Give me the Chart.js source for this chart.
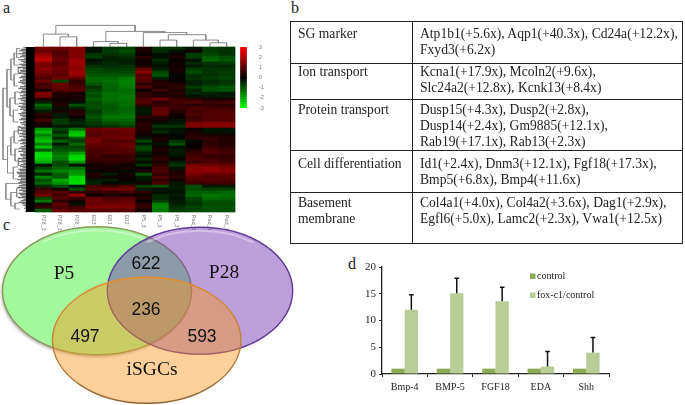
<!DOCTYPE html>
<html>
<head>
<meta charset="utf-8">
<script src="https://cdn.jsdelivr.net/npm/chart.js@4"></script>
<style>
  html, body { margin: 0; padding: 0; background: #fff; }
  body { position: relative; width: 685px; height: 405px; overflow: hidden; font-family: "Liberation Serif", serif; color: #222; }
  canvas { position: absolute; }
  .panel { position: absolute; font-size: 16px; line-height: 16px; color: #222; }
  table { position: absolute; left: 290px; top: 21px; width: 393px; border-collapse: collapse; table-layout: fixed; font-size: 13.6px; line-height: 16px; }
  td { border: 1.3px solid #222; padding: 2px 0 0 7px; vertical-align: top; white-space: nowrap; }
  td:first-child { width: 114px; }
</style>
</head>
<body>
<div class="panel" style="left:3px;top:0px">a</div>
<div class="panel" style="left:291px;top:0px">b</div>
<div class="panel" style="left:3px;top:217px">c</div>
<div class="panel" style="left:348px;top:256px">d</div>

<canvas id="heat" width="240" height="240" style="left:0;top:0;width:240px;height:240px;filter:blur(0.4px)"></canvas>
<canvas id="scale" width="34" height="80" style="left:237px;top:38px;width:34px;height:80px"></canvas>
<canvas id="venn" width="295" height="185" style="left:0;top:220px;width:295px;height:185px"></canvas>
<canvas id="bars" width="275" height="145" style="left:345px;top:255px;width:275px;height:145px"></canvas>

<table>
  <tr style="height:42px"><td style="padding-top:4px">SG marker</td><td style="padding-top:4px">Atp1b1(+5.6x), Aqp1(+40.3x), Cd24a(+12.2x),<br>Fxyd3(+6.2x)</td></tr>
  <tr style="height:36px"><td style="padding-top:0">Ion transport</td><td style="padding-top:0">Kcna1(+17.9x), Mcoln2(+9.6x),<br>Slc24a2(+12.8x), Kcnk13(+8.4x)</td></tr>
  <tr style="height:51px"><td>Protein transport</td><td>Dusp15(+4.3x), Dusp2(+2.8x),<br>Dusp14(+2.4x), Gm9885(+12.1x),<br>Rab19(+17.1x), Rab13(+2.3x)</td></tr>
  <tr style="height:42px"><td style="padding-top:5px">Cell differentiation</td><td style="padding-top:5px">Id1(+2.4x), Dnm3(+12.1x), Fgf18(+17.3x),<br>Bmp5(+6.8x), Bmp4(+11.6x)</td></tr>
  <tr style="height:51px"><td>Basement<br>membrane</td><td>Col4a1(+4.0x), Col4a2(+3.6x), Dag1(+2.9x),<br>Egfl6(+5.0x), Lamc2(+2.3x), Vwa1(+12.5x)</td></tr>
</table>

<script>
const serif = "'Liberation Serif'";

// panel a
const heatLabels = ["P28_3","P28_1","P28_2","E03","E01","E02","P5_3","P5_1","P5_2","Pad_2","Pad_1","Pad_3"];
const heatRows = [
  [1.4,1.3,1.5,-0.2,-0.6,-0.7,0.4,-0.6,-0.5,-0.2,-0.7,-0.6],
  [1.2,1.0,1.5,-0.2,-0.7,-0.9,0.3,-0.5,-0.2,0.2,-0.7,-0.6],
  [1.7,1.0,1.5,-0.6,-0.6,-0.7,0.1,-0.2,0.2,-0.7,-0.8,-0.6],
  [2.0,1.1,1.5,-0.7,-0.4,-0.5,0.4,-0.2,0.3,-0.7,-1.1,-0.9],
  [2.2,1.2,1.8,-0.2,-0.4,-0.4,0.2,-0.5,0.1,-0.2,-1.2,-1.0],
  [1.5,1.0,1.8,-0.3,-0.5,-0.4,0.2,-0.3,0.2,-0.5,-0.6,-0.7],
  [1.4,1.2,1.7,-0.6,-0.5,-0.6,0.3,-0.2,0.2,-0.3,-0.5,-0.5],
  [1.6,1.3,1.6,-0.8,-0.7,-0.7,1.2,-0.4,0.3,-0.7,-0.6,-0.6],
  [1.4,1.1,1.9,-0.9,-0.8,-0.8,1.5,-0.8,0.2,-0.9,-0.6,-0.7],
  [1.2,1.1,1.7,-1.0,-1.0,-1.0,1.0,-1.0,-0.1,-0.5,-0.6,-0.7],
  [0.9,1.3,1.1,-1.2,-1.2,-1.4,1.1,-0.4,0.1,-0.6,-0.7,-0.8],
  [1.2,-0.8,0.6,-1.2,-1.3,-1.5,0.9,0.3,0.1,-0.4,-0.5,-0.6],
  [0.8,1.2,0.7,-1.0,-1.2,-1.5,0.5,0.5,0.4,-0.4,-0.6,-0.7],
  [0.9,1.2,0.9,-0.6,-1.2,-1.4,0.9,0.3,0.5,-0.7,-0.9,-1.0],
  [0.3,1.0,1.0,-0.8,-1.1,-1.3,0.2,0.7,0.3,-0.4,-0.9,-1.0],
  [1.5,0.4,0.3,-1.0,-1.3,-1.3,0.6,0.3,0.5,-0.5,-0.4,-0.3],
  [1.4,0.3,0.3,-0.9,-1.3,-1.4,0.6,0.4,0.3,-0.2,-0.3,-0.3],
  [0.4,0.2,0.3,-1.1,-1.3,-1.4,0.9,1.3,0.7,0.5,0.3,0.3],
  [-0.4,0.3,-0.2,-0.9,-1.2,-1.3,1.0,0.5,0.8,0.9,0.7,0.8],
  [-1.2,0.4,-0.9,-0.9,-1.1,-1.3,0.5,0.6,0.7,0.5,0.6,0.5],
  [-0.8,-0.2,-0.4,-0.9,-1.0,-1.2,-0.2,1.1,0.7,0.9,0.8,0.8],
  [-0.3,0.3,0.4,-0.7,-1.1,-1.2,-0.3,1.2,0.5,0.8,0.9,0.9],
  [0.5,-0.3,0.5,-0.8,-1.2,-1.3,-0.2,1.1,0.2,0.9,1.0,1.0],
  [0.3,-0.3,0.1,-1.0,-1.4,-1.4,0.5,0.4,0.1,0.7,0.9,1.0],
  [0.8,-0.7,-0.3,-0.8,-1.2,-1.2,0.2,0.3,-0.2,0.8,1.0,0.9],
  [0.4,-0.7,-0.5,-0.7,-0.9,-1.0,0.5,-0.2,-0.3,1.4,1.5,1.5],
  [0.2,-0.3,-0.3,-0.5,-0.6,-0.7,0.4,-0.6,-0.6,1.5,1.6,1.6],
  [-1.7,-0.8,-1.3,1.2,1.3,1.3,0.4,-0.3,-0.2,0.2,-0.2,-0.2],
  [-2.2,-0.5,-2.2,1.1,1.1,1.2,0.3,-0.5,-0.2,0.3,-0.2,-0.2],
  [-1.5,-1.0,-2.4,1.0,1.2,1.2,0.2,0.1,-0.1,0.4,0.3,0.2],
  [-2.0,-0.5,-1.0,1.3,1.2,1.3,-0.3,0.3,-0.1,0.5,0.6,0.4],
  [-2.3,-1.1,-0.7,1.4,1.0,1.0,-0.8,0.3,-0.6,-0.1,0.5,0.4],
  [-1.5,-0.3,-1.2,1.2,1.1,1.2,-0.3,-0.2,-0.9,0.1,0.5,0.4],
  [-2.2,-0.8,-0.8,1.0,1.0,1.2,-0.9,0.2,-0.2,0.1,0.7,0.6],
  [-1.0,-1.0,-1.0,0.9,1.0,1.0,-0.7,0.3,-0.3,0.4,0.9,0.7],
  [-2.5,-1.3,-1.9,0.8,0.9,0.9,-0.3,0.2,-0.3,0.7,0.9,0.8],
  [-2.6,-1.5,-2.5,0.8,0.5,0.6,-0.2,0.4,-0.2,0.8,0.6,0.6],
  [-2.4,-1.4,-2.6,0.7,0.7,0.7,-0.5,0.5,0.1,0.9,0.8,0.7],
  [-2.0,-0.9,-1.7,0.5,0.6,0.5,-0.2,0.3,-0.4,0.7,0.9,0.8],
  [-0.2,-0.9,-0.2,0.2,0.3,0.2,-0.6,0.6,-0.6,1.4,1.3,1.2],
  [-0.8,-1.2,-1.3,0.3,0.2,0.3,0.1,0.8,-0.2,1.6,1.7,1.5],
  [-1.3,-1.5,-1.7,-0.1,0.2,-0.1,0.3,0.9,0.3,1.6,1.7,1.6],
  [-0.4,-1.1,-1.8,0.4,-0.3,0.2,-1.0,0.6,0.4,1.4,1.2,1.2],
  [-1.5,-1.0,-2.5,0.3,0.2,0.2,-0.3,1.0,0.5,1.1,0.9,1.0],
  [-0.9,-2.0,-2.5,-0.3,-0.3,0.1,-0.2,0.6,0.2,0.9,1.0,0.9],
  [-1.2,-1.7,-2.6,-0.4,-0.1,-0.2,0.2,0.9,-0.3,0.7,0.7,0.8],
  [-0.5,-0.9,-0.3,0.8,0.7,0.9,-0.7,-0.9,-0.3,-0.9,-0.3,-0.3],
  [0.7,0.2,-0.9,1.0,1.3,1.4,-0.3,-0.2,-0.3,-0.9,-0.8,-0.8],
  [1.0,1.0,0.6,0.5,0.6,0.7,0.5,-0.2,-0.2,-1.1,-1.1,-1.2],
  [1.3,0.8,1.7,0.2,0.3,0.3,0.2,-0.5,-0.3,-1.2,-1.4,-1.3],
  [-0.8,1.0,0.7,1.2,0.9,1.0,0.4,-0.5,-0.2,-0.8,-1.3,-1.2],
  [-1.4,0.5,0.2,1.3,1.1,1.2,0.1,-0.7,-0.3,-0.7,-1.0,-1.0],
  [0.3,1.1,-0.2,1.2,1.3,1.3,0.5,-1.5,-0.4,-0.6,-0.9,-0.9],
  [0.6,0.9,0.7,1.5,1.5,1.5,0.6,-1.6,-0.6,-0.8,-1.0,-1.0],
  [-1.0,1.2,1.0,1.0,1.0,1.0,0.3,-1.4,-0.7,-0.8,-0.9,-0.9]
];
// [from, to, height, fromBase, toBase]
const topTree = [
  [1.5,2.5,3.4,0,0], [0.5,2.0,4.3,0,3.4], [4.5,5.5,1.2,0,0], [3.5,5.0,1.8,0,1.2],
  [7.5,8.5,2.3,0,0], [10.5,11.5,1.4,0,0], [9.5,11.0,2.3,0,1.4], [8.0,10.25,4.1,2.3,2.3],
  [6.5,9.1,4.8,0,4.1], [4.25,7.8,5.2,1.8,4.8], [1.25,6.0,7.2,4.3,5.2]
];
const leftTree = [
  [0.5,3.5,-1.1,-0.9,-0.9], [2,6,-1.25,-1.1,-0.95], [9,13,-1.25,-1.0,-1.0], [4,11,-1.45,-1.25,-1.25],
  [7,8.5,-1.0,-0.85,-0.85], [15,19,-1.2,-0.95,-0.95], [21,25,-1.3,-1.0,-1.0], [17,23,-1.5,-1.2,-1.3],
  [7.5,20,-1.68,-1.45,-1.5], [28,32,-1.25,-1.0,-1.0], [34,38,-1.2,-0.95,-0.95], [30,36,-1.45,-1.25,-1.2],
  [40,44,-1.3,-1.0,-1.0], [33,42,-1.65,-1.45,-1.3], [26.5,29,-1.0,-0.85,-0.85], [37,39.5,-1.0,-0.85,-0.85],
  [13.75,37.5,-1.92,-1.68,-1.65], [47,50,-1.1,-0.9,-0.9], [52,54,-1.2,-0.9,-0.9], [48.5,53,-1.45,-1.1,-1.2],
  [45.5,50.75,-1.75,-0.8,-1.45]
];
const leafTips = [
  -0.7,-0.85,-0.95,-0.75,-1.0,-0.8,-0.9,-0.65,-1.0,-0.85,-0.7,-0.95,-0.8,-1.05,-0.75,-0.9,
  -0.85,-1.0,-0.7,-0.85,-0.95,-0.75,-0.9,-1.0,-0.8,-0.65,-0.9,-1.0,-0.75,-0.85,-0.95,-0.7,
  -0.9,-0.8,-1.0,-0.85,-0.7,-0.95,-0.75,-1.0,-0.85,-0.9,-0.7,-0.8,-1.0,-0.9,-0.75,-0.85,
  -0.95,-0.7,-0.9,-0.8,-0.65,-0.95,-0.85,-1.0,-0.75,-0.9,-0.8,-0.95,-0.7,-0.85,-1.0,-0.75,
  -0.9,-0.65,-0.85,-0.95,-0.8,-1.0,-0.7,-0.9,-0.85,-0.75,-0.95,-0.8,-1.0,-0.7,-0.85,-0.9,
  -0.75,-1.0,-0.9,-1.1,-1.05,-0.95,-1.0,-0.85,-1.05,-0.9,-1.0,-0.8,-0.95,-1.05,-0.85,-0.95,
  -0.75,-1.0,-0.9,-0.8,-1.0,-0.7,-0.85,-0.95,-0.8,-0.7,-0.6,-0.65,-0.55,-0.6
];
const scaleSteps = [3,2.75,2.5,2.25,2,1.75,1.5,1.25,1,0.75,0.5,0.25,0,-0.25,-0.5,-0.75,-1,-1.25,-1.5,-1.75,-2,-2.25,-2.5,-2.75,-3];

// panel c
const vennNames = ["P5","P28","iSGCs"];
const vennNameX = [64,224,152];
const vennNameY = [54,53,150];
const vennCx = [97,200,146.7];
const vennCy = [70.7,70.7,120.3];
const vennRx = [94.5,92.7,94.3];
const vennRy = [64,63.5,63];
const vennCounts = ["622","236","497","593"];
const vennCountX = [146,146,85,202];
const vennCountY = [44,90,117,117];

// panel d
const genes = ["Bmp-4","BMP-5","FGF18","EDA","Shh"];
const controlValues = [1,1,1,1,1];
const foxValues = [12,15.1,13.6,1.4,4];
const foxErrorTops = [14.8,17.9,16.2,4.2,6.8];
const barColors = ["#8cab52","#b9cd96"];

function heatColor(v) {
  const c = Math.round(Math.abs(v) * 85);
  return v >= 0 ? `rgb(${c},0,0)` : `rgb(0,${c},0)`;
}

// a line dataset made of separate pieces, null points break the line
function pieces(list, color, width) {
  const data = [];
  list.forEach(p => {
    p.forEach(pt => data.push({ x: pt[0], y: pt[1] }));
    data.push({ x: null, y: null });
  });
  return { type: "line", data, borderColor: color, borderWidth: width, pointRadius: 0, spanGaps: false, clip: false, tension: 0 };
}

const heatSets = [];
heatLabels.forEach((name, c) => {
  heatSets.push({
    label: name,
    data: heatRows.map((row, r) => ({ x: c + 0.5, y: [r, r + 1] })),
    backgroundColor: heatRows.map(row => heatColor(row[c])),
    borderWidth: 0,
    grouped: false,
    barPercentage: 1,
    categoryPercentage: 1
  });
});
heatSets.push(pieces([[[-0.27, 0], [-0.27, 55]]], "#000", 9));
heatSets.push(pieces(leafTips.map((tip, i) => [[tip, (i + 0.5) / 2], [-0.4, (i + 0.5) / 2]]), "#333", 0.9));
heatSets.push(pieces(topTree.map(b => [[b[0], -b[3]], [b[0], -b[2]], [b[1], -b[2]], [b[1], -b[4]]]), "#8a8a8a", 1));
heatSets.push(pieces(leftTree.map(b => [[b[3], b[0]], [b[2], b[0]], [b[2], b[1]], [b[4], b[1]]]), "#8a8a8a", 0.9));

const columnLabels = {
  id: "columnLabels",
  afterDraw(chart) {
    const { ctx, scales } = chart;
    ctx.save();
    ctx.fillStyle = "#777";
    ctx.font = "5.5px 'Liberation Sans'";
    heatLabels.forEach((name, c) => {
      ctx.save();
      ctx.translate(scales.x.getPixelForValue(c + 0.5), scales.y.getPixelForValue(55.9));
      ctx.rotate(Math.PI / 2);
      ctx.textBaseline = "middle";
      ctx.fillText(name, 0, 0);
      ctx.restore();
    });
    ctx.restore();
  }
};

new Chart(document.getElementById("heat"), {
  type: "bar",
  data: { datasets: heatSets },
  plugins: [columnLabels],
  options: {
    responsive: false,
    animation: false,
    devicePixelRatio: 1,
    layout: { padding: 0 },
    plugins: { legend: { display: false }, tooltip: { enabled: false } },
    scales: {
      x: { type: "linear", min: -2.1, max: 12.3, display: false, offset: false },
      y: { type: "linear", min: -15.667, max: 64.333, reverse: true, display: false }
    }
  }
});

new Chart(document.getElementById("scale"), {
  type: "bar",
  data: {
    labels: ["key"],
    datasets: scaleSteps.map(v => ({
      data: [[v - 0.125, v + 0.125]],
      backgroundColor: heatColor(v),
      borderWidth: 0,
      barThickness: 6,
      grouped: false
    }))
  },
  options: {
    responsive: false,
    animation: false,
    devicePixelRatio: 1,
    layout: { padding: { top: 9, bottom: 10, left: 2, right: 2 } },
    plugins: { legend: { display: false }, tooltip: { enabled: false } },
    scales: {
      x: { display: false, afterFit: s => { s.height = 0; } },
      y: {
        position: "right",
        min: -3,
        max: 3,
        afterFit: s => { s.width = 21; },
        grid: { display: false },
        border: { display: false },
        ticks: { stepSize: 1, color: "#777", padding: 3, font: { size: 5.5, family: "'Liberation Sans'" } }
      }
    }
  }
});

const ellipses = {
  id: "ellipses",
  beforeDatasetsDraw(chart) {
    const { ctx, scales } = chart;
    const fills = ["rgb(163,247,157)", "rgba(117,54,179,0.48)", "rgba(249,151,31,0.45)"];
    const strokes = ["#8b9a55", "#5f3a96", null];
    ctx.save();
    vennCx.forEach((cx, i) => {
      const x = scales.x.getPixelForValue(cx);
      const y = scales.y.getPixelForValue(vennCy[i]);
      const rx = scales.x.getPixelForValue(cx + vennRx[i]) - x;
      const ry = scales.y.getPixelForValue(vennCy[i] + vennRy[i]) - y;
      ctx.beginPath();
      ctx.ellipse(x, y, rx, ry, 0, 0, Math.PI * 2);
      ctx.fillStyle = fills[i];
      if (i === 0) { ctx.shadowColor = "rgba(90,90,90,0.55)"; ctx.shadowBlur = 3; ctx.shadowOffsetX = -1; ctx.shadowOffsetY = 2; }
      ctx.fill();
      ctx.shadowColor = "transparent";
      // gloss under the top edge
      if (i < 2) {
        ctx.beginPath();
        ctx.ellipse(x, y + 1.5, rx - 2, ry - 2, 0, Math.PI * 1.3, Math.PI * 1.7);
        ctx.strokeStyle = "rgba(255,255,255,0.35)";
        ctx.lineWidth = 2;
        ctx.stroke();
      }
      ctx.beginPath();
      ctx.ellipse(x, y, rx, ry, 0, 0, Math.PI * 2);
      if (strokes[i]) {
        ctx.strokeStyle = strokes[i];
      } else {
        const g = ctx.createLinearGradient(0, y - ry, 0, y + ry);
        g.addColorStop(0, "#e58c2c");
        g.addColorStop(0.6, "#bb8035");
        g.addColorStop(1, "#8f6430");
        ctx.strokeStyle = g;
      }
      ctx.lineWidth = 1.4;
      ctx.stroke();
    });
    ctx.restore();
  },
  afterDatasetsDraw(chart) {
    const { ctx, scales } = chart;
    ctx.save();
    ctx.fillStyle = "#111";
    ctx.textAlign = "center";
    ctx.textBaseline = "middle";
    ctx.font = "19.5px " + serif;
    vennNames.forEach((t, i) => ctx.fillText(t, scales.x.getPixelForValue(vennNameX[i]), scales.y.getPixelForValue(vennNameY[i])));
    ctx.font = "17.5px 'Liberation Sans'";
    vennCounts.forEach((t, i) => ctx.fillText(t, scales.x.getPixelForValue(vennCountX[i]), scales.y.getPixelForValue(vennCountY[i])));
    ctx.restore();
  }
};

new Chart(document.getElementById("venn"), {
  type: "scatter",
  data: { datasets: [{ data: vennCx.map((x, i) => ({ x, y: vennCy[i] })), pointRadius: 0 }] },
  plugins: [ellipses],
  options: {
    responsive: false,
    animation: false,
    devicePixelRatio: 1,
    layout: { padding: 0 },
    plugins: { legend: { display: false }, tooltip: { enabled: false } },
    scales: {
      x: { min: 0, max: 295, display: false },
      y: { min: 0, max: 185, reverse: true, display: false }
    }
  }
});

const errorBars = {
  id: "errorBars",
  afterDatasetsDraw(chart) {
    const { ctx, scales } = chart;
    const bars = chart.getDatasetMeta(1).data;
    ctx.save();
    ctx.strokeStyle = "#111";
    ctx.lineWidth = 1.5;
    foxErrorTops.forEach((top, i) => {
      const x = bars[i].x;
      const y = scales.y.getPixelForValue(top);
      ctx.beginPath();
      ctx.moveTo(x, bars[i].y);
      ctx.lineTo(x, y);
      ctx.moveTo(x - 2.3, y);
      ctx.lineTo(x + 2.3, y);
      ctx.stroke();
    });
    // the legend sits inside the plot, its swatches close to the text
    ctx.font = "10px " + serif;
    ctx.textBaseline = "middle";
    chart.data.datasets.forEach((d, i) => {
      const y = 21 + i * 19;
      ctx.fillStyle = barColors[i];
      ctx.fillRect(185, y - 2.5, 5.5, 5.5);
      ctx.fillStyle = "#222";
      ctx.fillText(d.label, 192, y);
    });
    ctx.restore();
  }
};

new Chart(document.getElementById("bars"), {
  type: "bar",
  data: {
    labels: genes,
    datasets: [
      { label: "control", data: controlValues, backgroundColor: barColors[0] },
      { label: "fox-c1/control", data: foxValues, backgroundColor: barColors[1] }
    ]
  },
  plugins: [errorBars],
  options: {
    responsive: false,
    animation: false,
    devicePixelRatio: 1,
    layout: { padding: { top: 12, right: 11, left: 0, bottom: 0 } },
    datasets: { bar: { categoryPercentage: 0.586, barPercentage: 1, borderWidth: 0 } },
    plugins: { tooltip: { enabled: false }, legend: { display: false } },
    scales: {
      x: {
        afterFit: s => { s.height = 26; },
        grid: { drawOnChartArea: false, offset: true, tickLength: 3, tickColor: "#222" },
        border: { color: "#222", width: 1.3 },
        ticks: { color: "#222", padding: 4, maxRotation: 0, font: { size: 10, family: serif } }
      },
      y: {
        min: 0,
        max: 20,
        afterFit: s => { s.width = 37; },
        grid: { drawOnChartArea: false, tickLength: 3, tickColor: "#222" },
        border: { color: "#222", width: 1.3 },
        ticks: { stepSize: 5, color: "#222", padding: 3, font: { size: 11, family: serif } }
      }
    }
  }
});
</script>
</body>
</html>
